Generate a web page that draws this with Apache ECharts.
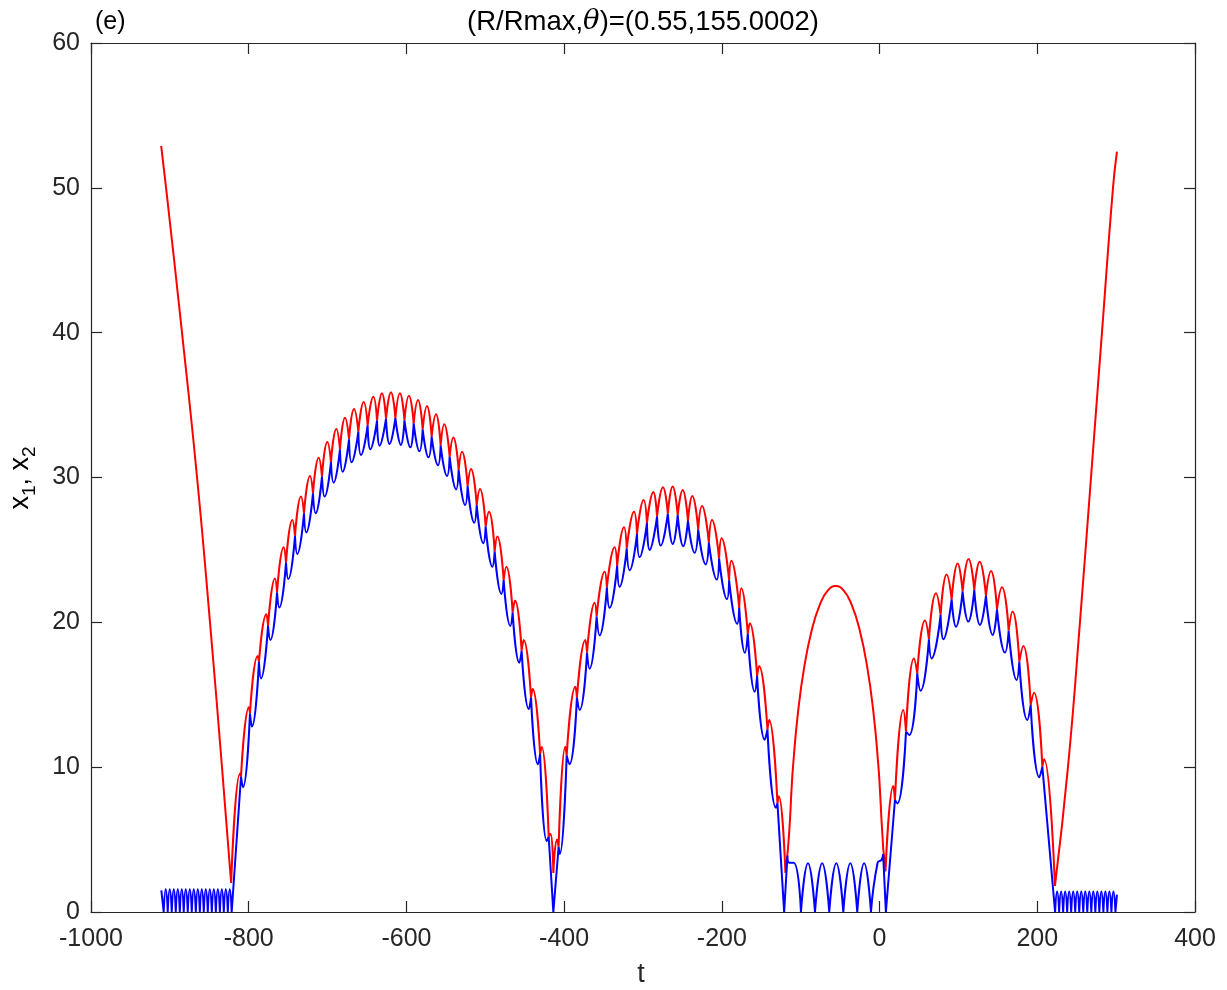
<!DOCTYPE html>
<html>
<head>
<meta charset="utf-8">
<script src="https://cdn.jsdelivr.net/npm/echarts@6/dist/echarts.min.js"></script>
<style>
html,body{margin:0;padding:0;background:#fff;}
#c{width:1227px;height:990px;}
</style>
</head>
<body>
<div id="c"></div>
<script>
// ---------------- DATA ----------------
// axis ticks
const xTicks = [-1000, -800, -600, -400, -200, 0, 200, 400];
const yTicks = [0, 10, 20, 30, 40, 50, 60];

// red (x1) smooth flanks and joins
const redLeftFlank  = [[-911.0,52.9],[-904.8,50],[-884.6,40],[-865.5,30],[-849.1,20],[-833.9,10],[-822.3,2.0]];
const redJoin1      = [[-822.3,2.0],[-811.0,9.57],[-809.8,9.34]];
const redJoin2a     = [[-419.6,5.2],[-417.3,5.4],[-413.7,2.7]];
const redJoin2b     = [[-413.7,2.7],[-409.0,5.0],[-407.0,4.5]];
const redJoin3      = [[-129.5,7.5],[-127.8,8.0],[-119.4,2.7]];
const redMidArch    = [[-119.4,2.7],[-116.3,4.3],[-113.6,6.4],[-111.6,8.5],[-109.6,10.15],[-103.6,13.7],[-95.6,16.89],[-85.6,19.55],[-75.6,21.24],[-65.6,22.20],[-55.6,22.51],[-45.6,22.20],[-35.6,21.24],[-25.6,19.55],[-15.6,16.89],[-7.6,13.7],[-1.6,10.15],[0.4,8.5],[2.4,6.4],[4.6,4.4]];
const redJoin4a     = [[4.6,4.4],[7.5,2.8]];
const redJoin4b     = [[7.5,2.8],[17.4,8.70],[19.5,7.73]];
const redJoin5      = [[206.4,10.04],[208.6,10.54],[222.4,1.8]];
const redRightFlank = [[222.4,1.8],[238.9,10],[254.1,20],[268.1,30],[282.0,40],[296.0,50],[301.0,52.5]];

// hump 1 (t ~ -822 .. -414): collision points, red crests, blue troughs
const a1CuspT = [-809.8,-798.4,-787.0,-775.5,-764.1,-752.7,-741.3,-729.9,-718.5,-707.1,-695.7,-684.3,-672.8,-661.0,-649.2,-637.3,-625.9,-614.0,-602.5,-590.8,-579.4,-568.0,-556.6,-545.2,-533.8,-522.4,-510.9,-499.5,-488.1,-476.7,-465.3,-453.9,-442.0,-430.5,-419.6];
const a1CuspV = [9.34,13.72,17.28,19.75,22.05,24.12,25.96,27.53,28.91,30.06,31.07,31.95,32.64,33.17,33.60,33.93,34.06,34.10,33.95,33.74,33.33,32.82,32.20,31.44,30.52,29.41,28.10,26.61,24.88,22.92,20.67,18.04,14.80,10.90,5.20];
const a1PeakT = [-799.7,-788.7,-777.7,-766.7,-755.7,-744.7,-733.7,-722.3,-711.3,-700.3,-688.9,-677.9,-666.5,-654.2,-642.0,-631.0,-619.6,-608.2,-596.8,-585.3,-573.9,-562.5,-552.0,-540.5,-529.5,-518.1,-506.7,-495.3,-484.7,-473.3,-462.3,-451.3,-439.9,-428.5];
const a1PeakV = [14.13,17.68,20.55,23.02,25.18,27.07,28.68,30.10,31.37,32.45,33.35,34.13,34.73,35.21,35.58,35.81,35.88,35.81,35.65,35.35,34.94,34.36,33.67,32.77,31.78,30.59,29.21,27.64,25.92,23.84,21.50,18.78,15.40,11.40];
const a1TroughT = [-807.3,-795.9,-784.4,-772.6,-761.2,-749.8,-738.4,-727.0,-715.1,-703.7,-692.3,-680.9,-669.5,-657.6,-645.8,-634.0,-621.5,-607.0,-595.0,-583.5,-572.0,-560.0,-548.5,-537.0,-525.5,-514.0,-502.5,-491.0,-479.5,-468.2,-456.8,-444.8,-433.2,-422.0];
const a1TroughV = [8.61,12.80,16.13,18.78,21.03,22.99,24.72,26.21,27.53,28.68,29.64,30.40,31.05,31.55,31.95,32.20,32.31,32.25,32.08,31.81,31.39,30.84,30.10,29.18,28.10,26.88,25.46,23.84,21.96,19.75,17.21,14.00,10.20,4.90];

// hump 2 (t ~ -414 .. -121)
const a2CuspT = [-407.0,-396.8,-383.8,-371.0,-358.8,-345.8,-332.8,-320.6,-307.6,-295.0,-282.2,-268.5,-256.0,-243.0,-230.0,-216.5,-203.5,-190.8,-178.0,-167.1,-155.3,-142.2,-129.5];
const a2CuspV = [4.5,10.8,14.8,17.9,20.4,22.4,23.9,25.1,26.1,26.85,27.3,27.5,27.4,27.0,26.4,25.5,24.4,22.9,21.0,19.2,16.3,12.6,7.5];
const a2PeakT = [-398.5,-385.8,-373.2,-361.3,-348.6,-336.0,-324.1,-311.4,-299.2,-286.9,-274.7,-262.4,-249.7,-237.5,-225.2,-212.5,-200.3,-188.0,-175.3,-164.6,-152.8,-140.1];
const a2PeakV = [11.41,15.56,18.78,21.36,23.50,25.18,26.56,27.64,28.45,29.00,29.32,29.37,29.14,28.72,28.03,27.07,25.80,24.26,22.35,19.93,16.98,13.26];
const a2TroughT = [-405.5,-393.3,-380.3,-367.7,-355.0,-342.3,-329.6,-316.9,-304.3,-291.6,-277.5,-262.3,-249.0,-234.5,-220.5,-206.5,-193.5,-180.5,-170.8,-158.3,-145.6,-131.5];
const a2TroughV = [4.0,10.2,13.95,16.8,19.1,21.0,22.45,23.6,24.5,25.0,25.3,25.4,25.25,24.8,24.0,22.95,21.6,19.9,17.9,15.2,11.9,7.2];

// hump 3 (t ~ 8 .. 222)
const a3CuspT = [19.5,33.5,47.8,62.6,77.4,91.4,105.3,120.1,134.9,148.9,163.7,177.2,191.6,206.4];
const a3CuspV = [7.73,12.45,16.48,18.83,20.50,21.59,22.12,22.23,21.82,20.90,19.42,17.28,14.29,10.04];
const a3PeakT = [30.1,43.6,57.6,71.5,85.0,99.0,112.9,126.9,141.3,155.2,168.7,182.3,195.8];
const a3PeakV = [13.95,17.51,20.12,22.00,23.31,24.07,24.37,24.19,23.54,22.42,20.74,18.37,15.14];
const a3TroughT = [22.5,37.7,52.1,66.0,80.8,96.9,112.5,127.3,143.4,159.0,173.8,187.3,202.6];
const a3TroughV = [7.5,12.22,15.28,17.51,18.83,19.70,20.05,19.82,19.13,17.91,16.02,13.26,9.30];

// blue (x2) floor bounces
const blueLeftZeros = [-907.8,-902.7,-897.6,-892.5,-887.4,-882.4,-877.3,-872.2,-867.1,-862.0,-857.0,-851.9,-846.8,-841.7,-836.6,-831.6,-826.5,-821.6];
const blueLeftTopT  = [-905.25,-900.15,-895.05,-889.95,-884.9,-879.85,-874.75,-869.65,-864.55,-859.5,-854.45,-849.35,-844.25,-839.15,-834.1,-829.05,-824.05];
const blueLeftTopV  = [1.57,1.57,1.57,1.57,1.57,1.57,1.57,1.57,1.57,1.57,1.57,1.57,1.57,1.57,1.57,1.57,1.57];
const blueMidZeros  = [-99.7,-81.9,-63.8,-46.0,-28.3,-10.9];
const blueMidTopT   = [-90.8,-72.8,-54.9,-37.1,-19.6];
const blueMidTopV   = [3.36,3.36,3.36,3.36,3.36];
const blueRightZeros = [222.6,227.7,232.8,237.9,243.0,248.1,253.2,258.3,263.4,268.5,273.6,278.7,283.8,288.9,294.0,299.1];
const blueRightTopT  = [225.15,230.25,235.35,240.45,245.55,250.65,255.75,260.85,265.95,271.05,276.15,281.25,286.35,291.45,296.55];
const blueRightTopV  = [1.42,1.42,1.42,1.42,1.42,1.42,1.42,1.42,1.42,1.42,1.42,1.42,1.42,1.42,1.42];

// blue joins
const blueStart   = [[-910.8,1.5],[-907.8,0]];
const blueJoin1   = [[-821.6,0],[-809.8,9.34]];
const blueJoin2a  = [[-419.6,5.2],[-413.7,0]];
const blueJoin2b  = [[-413.7,0],[-407.0,4.5]];
const blueJoin3a  = [[-129.5,7.5],[-121.0,0]];
const blueJoin3b  = [[-121.0,0],[-116.8,3.9]];
const blueJoin3c  = [[-116.8,3.9],[-114.5,3.4],[-109.0,3.4],[-99.7,0]];
const blueJoin4a  = [[-10.9,0],[-2.5,3.4],[2.4,3.6],[4.5,4.0]];
const blueJoin4b  = [[4.5,4.0],[8.0,0]];
const blueJoin4c  = [[8.0,0],[19.5,7.73]];
const blueJoin5   = [[206.4,10.04],[222.6,0]];
const blueEnd     = [[299.1,0],[301.0,1.2]];

// ---------------- build strokes ----------------
function loops(cT, cV, mT, mV) {
  const s = [];
  for (let i = 0; i < mT.length; i++) s.push([[cT[i], cV[i]], [mT[i], mV[i]], [cT[i + 1], cV[i + 1]]]);
  return s;
}
function bounces(z, tT, tV) {
  const s = [];
  for (let i = 0; i < tT.length; i++) s.push([[z[i], 0], [tT[i], tV[i]], [z[i + 1], 0]]);
  return s;
}
function join(strokes) {
  const out = [];
  strokes.forEach((s, i) => {
    if (i) out.push([s[0][0], '-']);
    s.forEach(p => out.push(p));
  });
  return out;
}

const redStrokes = [].concat(
  [redLeftFlank, redJoin1],
  loops(a1CuspT, a1CuspV, a1PeakT, a1PeakV),
  [redJoin2a, redJoin2b],
  loops(a2CuspT, a2CuspV, a2PeakT, a2PeakV),
  [redJoin3, redMidArch, redJoin4a, redJoin4b],
  loops(a3CuspT, a3CuspV, a3PeakT, a3PeakV),
  [redJoin5, redRightFlank]
);
const blueStrokes = [].concat(
  [blueStart],
  bounces(blueLeftZeros, blueLeftTopT, blueLeftTopV),
  [blueJoin1],
  loops(a1CuspT, a1CuspV, a1TroughT, a1TroughV),
  [blueJoin2a, blueJoin2b],
  loops(a2CuspT, a2CuspV, a2TroughT, a2TroughV),
  [blueJoin3a, blueJoin3b, blueJoin3c],
  bounces(blueMidZeros, blueMidTopT, blueMidTopV),
  [blueJoin4a, blueJoin4b, blueJoin4c],
  loops(a3CuspT, a3CuspV, a3TroughT, a3TroughV),
  [blueJoin5],
  bounces(blueRightZeros, blueRightTopT, blueRightTopV),
  [blueEnd]
);

// ---------------- chart ----------------
const FONT = '"Liberation Sans", Arial, Helvetica, sans-serif';
const AX = '#262626';
const chart = echarts.init(document.getElementById('c'), null, {renderer: 'canvas'});

const baseX = {
  type: 'value', min: xTicks[0], max: xTicks[xTicks.length - 1], interval: 200,
  splitLine: {show: false},
  axisLine: {show: true, onZero: false, lineStyle: {color: AX, width: 1.2}},
  axisTick: {show: true, inside: true, length: 11, lineStyle: {color: AX, width: 1.2}}
};
const baseY = {
  type: 'value', min: yTicks[0], max: yTicks[yTicks.length - 1], interval: 10,
  splitLine: {show: false},
  axisLine: {show: true, onZero: false, lineStyle: {color: AX, width: 1.2}},
  axisTick: {show: true, inside: true, length: 11, lineStyle: {color: AX, width: 1.2}}
};

chart.setOption({
  animation: false,
  backgroundColor: '#ffffff',
  grid: {left: 91, right: 32, top: 43, bottom: 78, containLabel: false},
  xAxis: [
    Object.assign({}, baseX, {position: 'bottom',
      axisLabel: {color: AX, fontSize: 25, fontFamily: FONT, margin: 15, formatter: v => String(v)}}),
    Object.assign({}, baseX, {position: 'top', axisLabel: {show: false}})
  ],
  yAxis: [
    Object.assign({}, baseY, {position: 'left',
      axisLabel: {color: AX, fontSize: 25, fontFamily: FONT, margin: 11, formatter: v => String(v)}}),
    Object.assign({}, baseY, {position: 'right', axisLabel: {show: false}})
  ],
  series: [
    {type: 'line', name: 'x1', xAxisIndex: 0, yAxisIndex: 0, data: join(redStrokes),
     smooth: 0.5, showSymbol: false, symbol: 'none', connectNulls: false,
     lineStyle: {color: '#ff0000', width: 2}, emphasis: {disabled: true}, silent: true},
    {type: 'line', name: 'x2', xAxisIndex: 0, yAxisIndex: 0, data: join(blueStrokes),
     smooth: 0.5, showSymbol: false, symbol: 'none', connectNulls: false,
     lineStyle: {color: '#0000ff', width: 2}, emphasis: {disabled: true}, silent: true}
  ],
  graphic: [
    {type: 'text', x: 643, y: 22, silent: true,
     style: {text: '{a|(R/Rmax,}{i|θ}{a|)=(0.55,155.0002)}', textAlign: 'center', textVerticalAlign: 'middle',
       rich: {a: {fontSize: 27.5, fontFamily: FONT, color: '#000'},
              i: {fontSize: 27.5, fontFamily: '"DejaVu Serif", "Liberation Serif", serif', fontStyle: 'italic', color: '#000'}}}},
    {type: 'text', x: 95, y: 22, silent: true,
     style: {text: '(e)', font: '25px ' + FONT, fill: '#000', textAlign: 'left', textVerticalAlign: 'middle'}},
    {type: 'text', x: 641, y: 975, silent: true,
     style: {text: 't', font: '27px ' + FONT, fill: AX, textAlign: 'center', textVerticalAlign: 'middle'}},
    {type: 'text', x: 21, y: 478, rotation: Math.PI / 2, silent: true,
     style: {text: '{a|x}{s|1}{a|, x}{s|2}', textAlign: 'center', textVerticalAlign: 'middle',
       rich: {a: {fontSize: 27, fontFamily: FONT, color: AX, verticalAlign: 'top', lineHeight: 28},
              s: {fontSize: 19, fontFamily: FONT, color: AX, verticalAlign: 'top', lineHeight: 20, padding: [13, 0, 0, 0]}}}}
  ]
});
</script>
</body>
</html>
